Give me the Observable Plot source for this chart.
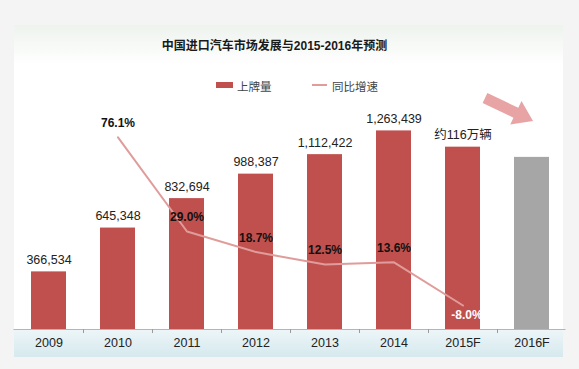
<!DOCTYPE html>
<html><head><meta charset="utf-8">
<script src="https://cdn.jsdelivr.net/npm/d3@7"></script>
<script src="https://cdn.jsdelivr.net/npm/@observablehq/plot@0.6"></script>
<style>
html,body{margin:0;padding:0;background:#f4f4f4;}
#wrap{position:relative;width:579px;height:369px;overflow:hidden;font-family:"Liberation Sans","Noto Sans CJK SC",sans-serif;}
#panel{position:absolute;left:14px;top:25px;width:549px;height:332px;background:linear-gradient(#eef3ee 0px,#ffffff 40px,#ffffff 100%);}
#band{position:absolute;left:14px;top:329px;width:549px;height:28px;background:linear-gradient(#edf6f8,#d6e9ee);}
#title{position:absolute;left:0;width:549px;top:36px;text-align:center;font-weight:bold;font-size:12px;color:#1a1a1a;font-family:"Liberation Sans","Noto Sans CJK SC",sans-serif;}
.lg{position:absolute;font-size:11.5px;color:#444;top:78px;font-family:"Noto Sans CJK SC",sans-serif;}
#chart{position:absolute;left:0;top:0;}
</style></head>
<body><div id="wrap">
<div id="panel"></div><div id="band"></div>
<div id="title">中国进口汽车市场发展与2015-2016年预测</div>
<div style="position:absolute;left:216px;top:82px;width:17px;height:6px;background:#c0504d"></div>
<div class="lg" style="left:237px">上牌量</div>
<div style="position:absolute;left:312px;top:84px;width:15px;height:2px;background:#e09c9a"></div>
<div class="lg" style="left:332px">同比增速</div>
<div id="chart"></div>
</div>
<script>
const years = ["2009","2010","2011","2012","2013","2014","2015F","2016F"];
const volumes = [366534, 645348, 832694, 988387, 1112422, 1263439, 1160000, 1095000];
const volumeLabels = ["366,534","645,348","832,694","988,387","1,112,422","1,263,439","约116万辆",""];
const rateYears = ["2010","2011","2012","2013","2014","2015F"];
const rates = [76.1, 29.0, 18.7, 12.5, 13.6, -8.0];
const rateLabels = ["76.1%","29.0%","18.7%","12.5%","13.6%","-8.0%"];

const bars = years.map((y,i)=>({year:y, value:volumes[i], label:volumeLabels[i], forecast: y==="2016F"}));
// secondary axis for growth rate mapped into the bar value domain
const rateToY = d3.scaleLinear().domain([0,100]).range([254450,1526700]);
const growth = rateYears.map((y,i)=>({year:y, rate:rates[i], label:rateLabels[i], y: rateToY(rates[i])}));

const font = "Liberation Sans, Noto Sans CJK SC, sans-serif";
const plot = Plot.plot({
  width:579, height:369,
  marginLeft:13.5, marginRight:13.5, marginTop:25, marginBottom:40,
  style:{background:"transparent", fontFamily:font},
  x:{type:"band", domain:years, paddingInner:0.493, paddingOuter:0.2465, align:0.5, label:null},
  y:{domain:[0,1934000], axis:null},
  marks:[
    Plot.barY(bars.filter(d=>!d.forecast), {x:"year", y:"value", fill:"#c0504d"}),
    Plot.barY(bars.filter(d=>d.forecast), {x:"year", y:"value", fill:"#a6a6a6"}),
    Plot.ruleY([0], {stroke:"#b5b5b5", strokeWidth:1}),
    Plot.axisX({ticks: years.slice(0,-1), tickSize:4, dx:34.5, text:null, stroke:"#9a9a9a", label:null}),
    Plot.axisX({tickSize:0, tickPadding:9, fontSize:12.5, fill:"#222", label:null}),
    Plot.text(bars.filter(d=>d.label), {x:"year", y:"value", text:"label", dy:-12, fontSize:12.5, fill:"#222", fontFamily:"Liberation Sans, Noto Sans CJK SC"}),
    Plot.line(growth, {x:"year", y:"y", stroke:"#e09c9a", strokeWidth:2}),
    Plot.text(growth.filter(d=>d.rate>=0), {x:"year", y:"y", text:"label", dy:-14, fontSize:12, fontWeight:"bold", fill:"#111"}),
    Plot.text(growth.filter(d=>d.rate<0), {x:"year", y:"y", text:"label", dy:10, dx:4, fontSize:12, fontWeight:"bold", fill:"#fff"})
  ]
});
document.getElementById("chart").appendChild(plot);

// decorative block arrow pointing from the 2015F forecast toward 2016F
const arrowFrom = {year:"2015F", value:1470000, dx:22.5};
const arrowTo = {year:"2016F", value:1323000, dx:1.5};
const sx = plot.scale("x"), sy = plot.scale("y");
const px = d => sx.apply(d.year) + sx.bandwidth/2 + d.dx;
const x0 = px(arrowFrom), y0 = sy.apply(arrowFrom.value);
const x1 = px(arrowTo), y1 = sy.apply(arrowTo.value);
const L = Math.hypot(x1-x0, y1-y0), ux=(x1-x0)/L, uy=(y1-y0)/L, nx=-uy, ny=ux;
const sw=5.5, hw=13, hl=19;
const bx = x1-ux*hl, by = y1-uy*hl;
const pts = [
  [x0+nx*sw, y0+ny*sw],[bx+nx*sw, by+ny*sw],[bx+nx*hw, by+ny*hw],[x1,y1],
  [bx-nx*hw, by-ny*hw],[bx-nx*sw, by-ny*sw],[x0-nx*sw, y0-ny*sw]
];
d3.select(plot).append("polygon").attr("points", pts.map(p=>p.join(",")).join(" ")).attr("fill","#e8a4a4");
</script>
</body></html>
